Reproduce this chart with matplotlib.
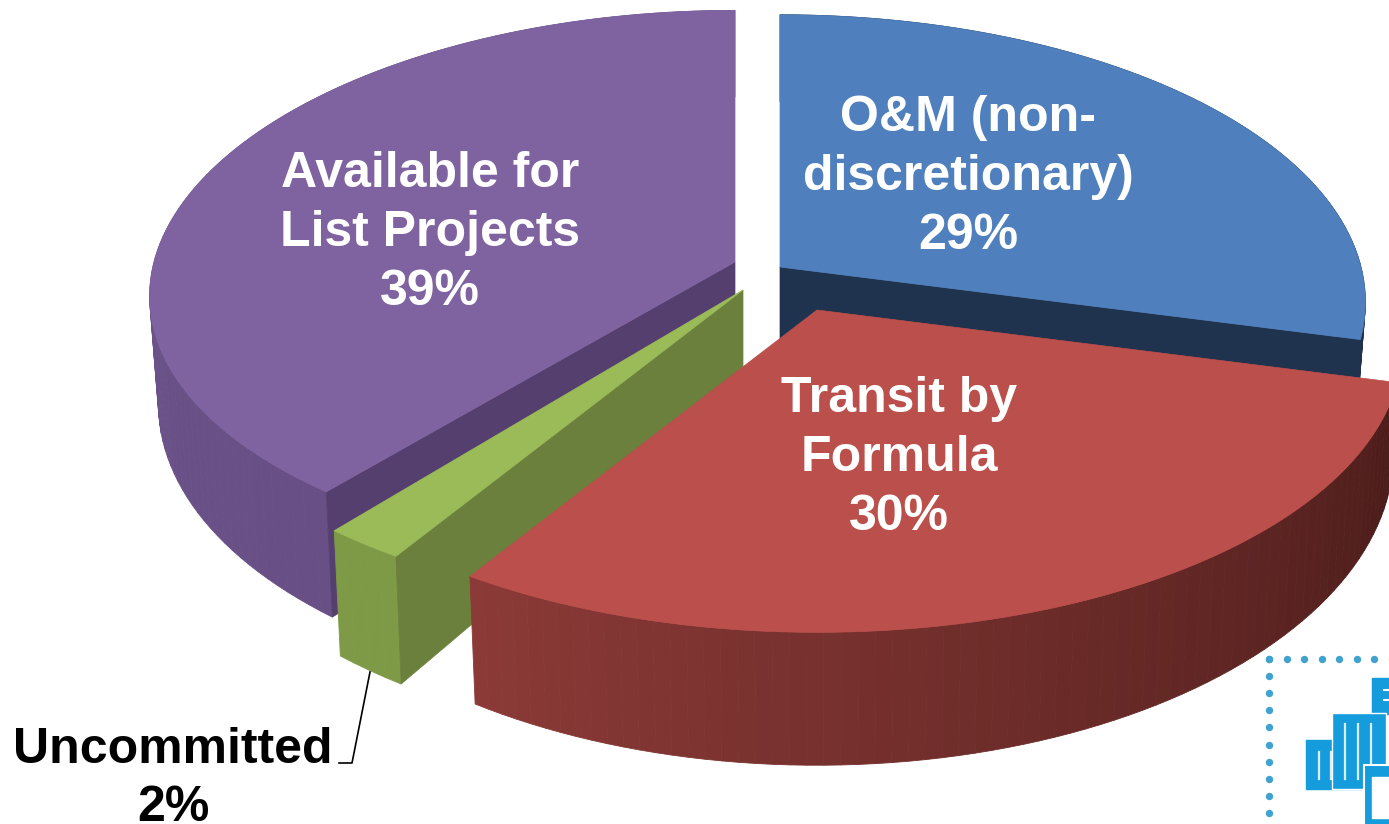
import numpy as np
import matplotlib
matplotlib.use('Agg')
import matplotlib.pyplot as plt
from matplotlib.colors import to_rgb
from matplotlib.patches import Polygon, Rectangle

# ---------- Data ----------
names = ['O&M (non-\ndiscretionary)', 'Transit by\nFormula', 'Uncommitted', 'Available for\nList Projects']
shares = [29, 30, 2, 39]

# ---------- Look of each slice ----------
top_colors = ['#4f7fbc', '#bb4f4b', '#9bbb59', '#7f63a0']
cut_colors = ['#1f334f', '#4a1c1a', '#6b803c', '#553f6e']
side_left = ['#1f334f', '#8b3a37', '#7f9a47', '#6f5a90']
side_right = ['#1f334f', '#4a1c1a', '#7f9a47', '#684f85']
apexes = [(780, 267), (817, 310), (743, 290), (735, 262)]
draw_order = [3, 0, 2, 1]
cut_edge = [1, None, 0, 0]  # which straight edge shows its cut face
squash = [283, 283, 283, 276]
persp = [0.122, 0.122, 0.122, 0.097]

# ---------- Fake 3D projection ----------
RX = 581
PERSP_X = 0.122
DEPTH, DEPTH_PERSP = 105, 0.21
SHRINK = 0.985


def top_xy(theta, i):
    # theta runs clockwise from 12 o'clock
    u, v = np.sin(theta), np.cos(theta)
    return (apexes[i][0] + RX * u / (1 + PERSP_X * v),
            apexes[i][1] - squash[i] * v / (1 + persp[i] * v))


def bottom_xy(theta, i):
    x, y = top_xy(theta, i)
    return apexes[i][0] + (x - apexes[i][0]) * SHRINK, y + DEPTH / (1 + DEPTH_PERSP * np.cos(theta))


fig = plt.figure(figsize=(13.89, 8.24), dpi=100)
ax = fig.add_axes([0, 0, 1, 1])
ax.set_xlim(0, 1389)
ax.set_ylim(824, 0)
ax.axis('off')

# ---------- Logo corner ----------
LOGO = '#149cdc'
dots_x = np.arange(1269, 1395, 17.5)
dots_y = np.arange(659, 830, 17.1)
ax.scatter(dots_x, np.full_like(dots_x, 659), s=28, color='#3fa2cf', linewidths=0, zorder=1)
ax.scatter(np.full_like(dots_y, 1269), dots_y, s=28, color='#3fa2cf', linewidths=0, zorder=1)
ax.add_patch(Rectangle((1372, 678), 20, 36, color=LOGO, zorder=1))
ax.add_patch(Rectangle((1306, 740), 56, 49, color=LOGO, zorder=1))
ax.add_patch(Rectangle((1332, 713), 54, 76, facecolor=LOGO, edgecolor='white', linewidth=1, zorder=1))
for sx in [1319, 1331, 1345, 1358, 1371]:
    ax.plot([sx, sx], [752 if sx < 1340 else 724, 779], color='#d9f0fb', lw=1.6, zorder=2)
for sy in [690, 700]:
    ax.plot([1384, 1392], [sy, sy], color='white', lw=1.5, zorder=2)
ax.add_patch(Rectangle((1364, 765), 30, 70, facecolor=LOGO, edgecolor='white', linewidth=1.5, zorder=2))
ax.add_patch(Rectangle((1372, 777), 20, 41, color='white', zorder=3))

# ---------- Slices ----------
edges = np.deg2rad(np.cumsum([0] + shares) * 3.6)
z = 5
for i in draw_order:
    a0, a1, apex = edges[i], edges[i + 1], apexes[i]

    # outer wall, shaded strip by strip
    n = max(int(np.degrees(a1 - a0) / 1.5), 3)
    ts = np.linspace(a0, a1, n + 1)
    c_right, c_left = np.array(to_rgb(side_right[i])), np.array(to_rgb(side_left[i]))
    for k in range(n):
        t0, t1 = ts[k], ts[k + 1]
        f = (k + 0.5) / n
        col = c_right + (c_left - c_right) * f
        ax.add_patch(Polygon([top_xy(t0, i), top_xy(t1, i), bottom_xy(t1, i), bottom_xy(t0, i)],
                             facecolor=col, edgecolor=col, lw=0.6, zorder=z))
    z += 1

    # cut face along one straight edge
    if cut_edge[i] is not None:
        a_cut = a1 if cut_edge[i] else a0
        ax.add_patch(Polygon([apex, top_xy(a_cut, i), bottom_xy(a_cut, i), (apex[0], apex[1] + DEPTH)],
                             facecolor=cut_colors[i], edgecolor=cut_colors[i], lw=0.5, zorder=z))
    z += 1

    # top face
    ts = np.linspace(a0, a1, 240)
    px, py = top_xy(ts, i)
    pts = [apex] + list(zip(px, py))
    ax.add_patch(Polygon(pts, facecolor=top_colors[i], edgecolor=top_colors[i], lw=0.5, zorder=z))
    z += 1

# ---------- Labels ----------
font = ['Liberation Sans', 'DejaVu Sans']
ax.text(968, 177, names[0] + '\n%d%%' % shares[0], color='white', fontsize=36, fontweight='bold',
        family=font, ha='center', va='center', linespacing=1.35, zorder=30)
ax.text(899, 458, names[1] + '\n%d%%' % shares[1], color='white', fontsize=36, fontweight='bold',
        family=font, ha='center', va='center', linespacing=1.35, zorder=30)
ax.text(430, 233, names[3] + '\n%d%%' % shares[3], color='white', fontsize=36, fontweight='bold',
        family=font, ha='center', va='center', linespacing=1.35, zorder=30)
ax.text(173, 779, names[2] + '\n%d%%' % shares[2], color='black', fontsize=36, fontweight='bold',
        family=font, ha='center', va='center', linespacing=1.35, zorder=30)

# leader line for the small slice
ax.plot([370, 352, 339], [672, 763, 763], color='black', lw=1.2, zorder=29)

fig.savefig('out.png', dpi=100, facecolor='white')
